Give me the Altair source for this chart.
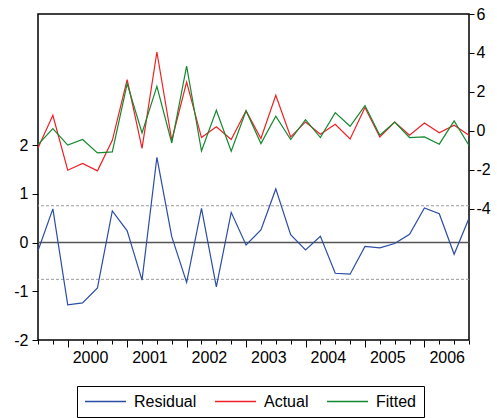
import altair as alt
import pandas as pd

# Quarterly sample, 1999Q3 - 2006Q4
quarters = [
    "1999Q3", "1999Q4",
    "2000Q1", "2000Q2", "2000Q3", "2000Q4",
    "2001Q1", "2001Q2", "2001Q3", "2001Q4",
    "2002Q1", "2002Q2", "2002Q3", "2002Q4",
    "2003Q1", "2003Q2", "2003Q3", "2003Q4",
    "2004Q1", "2004Q2", "2004Q3", "2004Q4",
    "2005Q1", "2005Q2", "2005Q3", "2005Q4",
    "2006Q1", "2006Q2", "2006Q3", "2006Q4",
]
years = ["2000", "2001", "2002", "2003", "2004", "2005", "2006"]

actual = [-0.88, 0.80, -2.02, -1.67, -2.05, -0.48, 2.63, -0.90, 4.05, -0.48,
          2.51, -0.34, 0.21, -0.44, 1.03, -0.39, 1.83, -0.31, 0.46, -0.17,
          0.34, -0.41, 1.20, -0.31, 0.45, -0.22, 0.41, -0.10, 0.29, -0.22]
fitted = [-0.70, 0.12, -0.73, -0.44, -1.13, -1.08, 2.43, -0.10, 2.29, -0.62,
          3.32, -1.03, 1.06, -1.04, 1.03, -0.65, 0.75, -0.44, 0.58, -0.34,
          0.94, 0.24, 1.30, -0.22, 0.45, -0.34, -0.31, -0.68, 0.51, -0.75]
residual = [-0.17, 0.69, -1.28, -1.24, -0.93, 0.65, 0.24, -0.77, 1.75, 0.12,
            -0.82, 0.70, -0.91, 0.62, -0.05, 0.26, 1.10, 0.16, -0.15, 0.13,
            -0.63, -0.65, -0.08, -0.11, -0.02, 0.17, 0.71, 0.59, -0.24, 0.50]

series_names = ["Residual", "Actual", "Fitted"]
series_colors = ["#2B4DA6", "#EE2024", "#13892E"]

left_ticks = [-2, -1, 0, 1, 2]
right_ticks = [-4, -2, 0, 2, 4, 6]
left_domain = [-2, 4.69]
right_domain = [-10.73, 6]
se_band = [-0.755, 0.755]

FONT = "Liberation Sans"
FS = 16

n = len(quarters)
t = list(range(n))
res_df = pd.DataFrame({"t": t, "quarter": quarters, "value": residual})
af_df = pd.DataFrame({"t": t + t, "quarter": quarters + quarters,
                      "value": actual + fitted,
                      "series": ["Actual"] * n + ["Fitted"] * n})
band_df = pd.DataFrame({"level": se_band})

# Year ticks: long tick at each Q1, label centred over the year's four quarters
q1_pos = [quarters.index(y + "Q1") for y in years]
label_expr = "''"
for y, p in reversed(list(zip(years, q1_pos))):
    label_expr = f"datum.value == {p + 1} ? '{y}' : " + label_expr
major_test = "indexof([" + ",".join(str(p) for p in q1_pos) + "], datum.value) >= 0"

# plain hyphen for negative tick labels
num_label = "'' + datum.value"

x_enc = alt.X(
    "t:Q",
    scale=alt.Scale(domain=[0, n - 1], nice=False, zero=False),
    axis=alt.Axis(
        values=t, title=None, domain=False, grid=False,
        tickColor="black", tickWidth=1,
        tickSize={"condition": {"test": major_test, "value": 7}, "value": 4},
        labelExpr=label_expr, labelOffset=7.4, labelPadding=5,
        labelFont=FONT, labelFontSize=FS, labelColor="black",
        labelOverlap=False, labelFlush=False,
    ),
)

# One legend carrying all three series (the residual line itself is drawn
# with a fixed colour on the left-hand scale)
legend = alt.Legend(
    title=None, orient="none", direction="horizontal",
    legendX=39, legendY=372,
    symbolType="stroke", symbolSize=1681, symbolStrokeWidth=1.3,
    clipHeight=17, labelOffset=7, columnPadding=17,
    labelFont=FONT, labelFontSize=FS, labelColor="black",
    strokeColor="black", fillColor="white", padding=7,
)
stroke_enc = alt.Stroke(
    "series:N",
    scale=alt.Scale(domain=series_names, range=series_colors),
    legend=legend,
)

left_axis = alt.Axis(
    orient="left", values=left_ticks, title=None, domain=False, grid=False,
    tickColor="black", tickSize=6, labelPadding=4, labelExpr=num_label,
    labelFont=FONT, labelFontSize=FS, labelColor="black",
)
left_scale = alt.Scale(domain=left_domain, nice=False, zero=False)

right_axis = alt.Axis(
    orient="right", values=right_ticks, title=None, domain=False, grid=False,
    tickColor="black", tickSize=5, labelPadding=2, labelExpr=num_label,
    labelFont=FONT, labelFontSize=FS, labelColor="black",
)
right_scale = alt.Scale(domain=right_domain, nice=False, zero=False)

zero_line = alt.Chart(res_df).mark_rule(color="#555555", strokeWidth=1.5).encode(
    y=alt.Y("zero:Q", scale=left_scale, axis=left_axis)
).transform_aggregate(zero="min(t)")

band_lines = alt.Chart(band_df).mark_rule(
    color="#9a9a9a", strokeWidth=1, strokeDash=[3, 2]
).encode(y=alt.Y("level:Q", scale=left_scale, axis=left_axis))

res_line = alt.Chart(res_df).mark_line(
    strokeWidth=1.2, color=series_colors[0]
).encode(
    x=x_enc,
    y=alt.Y("value:Q", scale=left_scale, axis=left_axis),
)

af_lines = alt.Chart(af_df).mark_line(strokeWidth=1.2).encode(
    x=x_enc,
    y=alt.Y("value:Q", scale=right_scale, axis=right_axis),
    stroke=stroke_enc,
)

left_group = alt.layer(band_lines, zero_line, res_line)
right_group = alt.layer(af_lines)

chart = alt.layer(left_group, right_group).resolve_scale(
    y="independent"
).properties(
    width=431, height=326,
    autosize=alt.AutoSizeParams(type="none"),
    padding={"left": 38, "top": 14, "right": 28, "bottom": 78},
    background="white",
).configure_view(stroke="black", strokeWidth=1.5)

chart.save("out.html", embed_options={"renderer": "svg", "actions": False})
